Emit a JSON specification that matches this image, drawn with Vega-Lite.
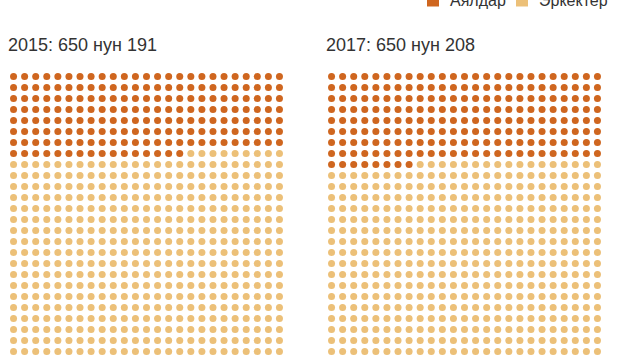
{
  "$schema": "https://vega.github.io/schema/vega-lite/v6.json",
  "background": "white",
  "padding": {"left": 8, "top": -8, "right": 0, "bottom": 0},
  "datasets": {
    "y2015": [
      1,1,1,1,1,1,1,1,1,1,1,1,1,1,1,1,1,1,1,1,1,1,1,1,1,
      1,1,1,1,1,1,1,1,1,1,1,1,1,1,1,1,1,1,1,1,1,1,1,1,1,
      1,1,1,1,1,1,1,1,1,1,1,1,1,1,1,1,1,1,1,1,1,1,1,1,1,
      1,1,1,1,1,1,1,1,1,1,1,1,1,1,1,1,1,1,1,1,1,1,1,1,1,
      1,1,1,1,1,1,1,1,1,1,1,1,1,1,1,1,1,1,1,1,1,1,1,1,1,
      1,1,1,1,1,1,1,1,1,1,1,1,1,1,1,1,1,1,1,1,1,1,1,1,1,
      1,1,1,1,1,1,1,1,1,1,1,1,1,1,1,1,1,1,1,1,1,1,1,1,1,
      1,1,1,1,1,1,1,1,1,1,1,1,1,1,1,1,0,0,0,0,0,0,0,0,0,
      0,0,0,0,0,0,0,0,0,0,0,0,0,0,0,0,0,0,0,0,0,0,0,0,0,
      0,0,0,0,0,0,0,0,0,0,0,0,0,0,0,0,0,0,0,0,0,0,0,0,0,
      0,0,0,0,0,0,0,0,0,0,0,0,0,0,0,0,0,0,0,0,0,0,0,0,0,
      0,0,0,0,0,0,0,0,0,0,0,0,0,0,0,0,0,0,0,0,0,0,0,0,0,
      0,0,0,0,0,0,0,0,0,0,0,0,0,0,0,0,0,0,0,0,0,0,0,0,0,
      0,0,0,0,0,0,0,0,0,0,0,0,0,0,0,0,0,0,0,0,0,0,0,0,0,
      0,0,0,0,0,0,0,0,0,0,0,0,0,0,0,0,0,0,0,0,0,0,0,0,0,
      0,0,0,0,0,0,0,0,0,0,0,0,0,0,0,0,0,0,0,0,0,0,0,0,0,
      0,0,0,0,0,0,0,0,0,0,0,0,0,0,0,0,0,0,0,0,0,0,0,0,0,
      0,0,0,0,0,0,0,0,0,0,0,0,0,0,0,0,0,0,0,0,0,0,0,0,0,
      0,0,0,0,0,0,0,0,0,0,0,0,0,0,0,0,0,0,0,0,0,0,0,0,0,
      0,0,0,0,0,0,0,0,0,0,0,0,0,0,0,0,0,0,0,0,0,0,0,0,0,
      0,0,0,0,0,0,0,0,0,0,0,0,0,0,0,0,0,0,0,0,0,0,0,0,0,
      0,0,0,0,0,0,0,0,0,0,0,0,0,0,0,0,0,0,0,0,0,0,0,0,0,
      0,0,0,0,0,0,0,0,0,0,0,0,0,0,0,0,0,0,0,0,0,0,0,0,0,
      0,0,0,0,0,0,0,0,0,0,0,0,0,0,0,0,0,0,0,0,0,0,0,0,0,
      0,0,0,0,0,0,0,0,0,0,0,0,0,0,0,0,0,0,0,0,0,0,0,0,0,
      0,0,0,0,0,0,0,0,0,0,0,0,0,0,0,0,0,0,0,0,0,0,0,0,0
    ],
    "y2017": [
      1,1,1,1,1,1,1,1,1,1,1,1,1,1,1,1,1,1,1,1,1,1,1,1,1,
      1,1,1,1,1,1,1,1,1,1,1,1,1,1,1,1,1,1,1,1,1,1,1,1,1,
      1,1,1,1,1,1,1,1,1,1,1,1,1,1,1,1,1,1,1,1,1,1,1,1,1,
      1,1,1,1,1,1,1,1,1,1,1,1,1,1,1,1,1,1,1,1,1,1,1,1,1,
      1,1,1,1,1,1,1,1,1,1,1,1,1,1,1,1,1,1,1,1,1,1,1,1,1,
      1,1,1,1,1,1,1,1,1,1,1,1,1,1,1,1,1,1,1,1,1,1,1,1,1,
      1,1,1,1,1,1,1,1,1,1,1,1,1,1,1,1,1,1,1,1,1,1,1,1,1,
      1,1,1,1,1,1,1,1,1,1,1,1,1,1,1,1,1,1,1,1,1,1,1,1,1,
      1,1,1,1,1,1,1,1,0,0,0,0,0,0,0,0,0,0,0,0,0,0,0,0,0,
      0,0,0,0,0,0,0,0,0,0,0,0,0,0,0,0,0,0,0,0,0,0,0,0,0,
      0,0,0,0,0,0,0,0,0,0,0,0,0,0,0,0,0,0,0,0,0,0,0,0,0,
      0,0,0,0,0,0,0,0,0,0,0,0,0,0,0,0,0,0,0,0,0,0,0,0,0,
      0,0,0,0,0,0,0,0,0,0,0,0,0,0,0,0,0,0,0,0,0,0,0,0,0,
      0,0,0,0,0,0,0,0,0,0,0,0,0,0,0,0,0,0,0,0,0,0,0,0,0,
      0,0,0,0,0,0,0,0,0,0,0,0,0,0,0,0,0,0,0,0,0,0,0,0,0,
      0,0,0,0,0,0,0,0,0,0,0,0,0,0,0,0,0,0,0,0,0,0,0,0,0,
      0,0,0,0,0,0,0,0,0,0,0,0,0,0,0,0,0,0,0,0,0,0,0,0,0,
      0,0,0,0,0,0,0,0,0,0,0,0,0,0,0,0,0,0,0,0,0,0,0,0,0,
      0,0,0,0,0,0,0,0,0,0,0,0,0,0,0,0,0,0,0,0,0,0,0,0,0,
      0,0,0,0,0,0,0,0,0,0,0,0,0,0,0,0,0,0,0,0,0,0,0,0,0,
      0,0,0,0,0,0,0,0,0,0,0,0,0,0,0,0,0,0,0,0,0,0,0,0,0,
      0,0,0,0,0,0,0,0,0,0,0,0,0,0,0,0,0,0,0,0,0,0,0,0,0,
      0,0,0,0,0,0,0,0,0,0,0,0,0,0,0,0,0,0,0,0,0,0,0,0,0,
      0,0,0,0,0,0,0,0,0,0,0,0,0,0,0,0,0,0,0,0,0,0,0,0,0,
      0,0,0,0,0,0,0,0,0,0,0,0,0,0,0,0,0,0,0,0,0,0,0,0,0,
      0,0,0,0,0,0,0,0,0,0,0,0,0,0,0,0,0,0,0,0,0,0,0,0,0
    ]
  },
  "spacing": 41,
  "hconcat": [
    {
      "data": {"name": "y2015"},
      "title": "2015: 650 нун 191",
      "width": 277,
      "height": 286,
      "transform": [
        {"window": [{"op": "row_number", "as": "i"}]},
        {"bin": {"step": 25, "extent": [1, 651], "nice": false}, "field": "i", "as": "r0"},
        {"window": [{"op": "row_number", "as": "c"}], "groupby": ["r0"], "sort": [{"field": "i", "order": "ascending"}]}
      ],
      "mark": {"type": "circle", "size": 49, "opacity": 1},
      "encoding": {
        "x": {"field": "c", "type": "quantitative", "scale": {"domain": [0.5, 25.5], "nice": false, "zero": false}, "axis": null},
        "y": {"field": "r0", "type": "quantitative", "scale": {"domain": [-11.5, 638.5], "nice": false, "zero": false, "reverse": true}, "axis": null},
        "color": {"field": "data", "type": "nominal", "scale": {"domain": [1, 0], "range": ["#cf661f", "#ecc078"]},
          "legend": {"labelExpr": "datum.value == 1 ? 'Аялдар' : 'Эркектер'"}}
      }
    },
    {
      "data": {"name": "y2017"},
      "title": "2017: 650 нун 208",
      "width": 277,
      "height": 286,
      "transform": [
        {"window": [{"op": "row_number", "as": "i"}]},
        {"bin": {"step": 25, "extent": [1, 651], "nice": false}, "field": "i", "as": "r0"},
        {"window": [{"op": "row_number", "as": "c"}], "groupby": ["r0"], "sort": [{"field": "i", "order": "ascending"}]}
      ],
      "mark": {"type": "circle", "size": 49, "opacity": 1},
      "encoding": {
        "x": {"field": "c", "type": "quantitative", "scale": {"domain": [0.5, 25.5], "nice": false, "zero": false}, "axis": null},
        "y": {"field": "r0", "type": "quantitative", "scale": {"domain": [-11.5, 638.5], "nice": false, "zero": false, "reverse": true}, "axis": null},
        "color": {"field": "data", "type": "nominal", "scale": {"domain": [1, 0], "range": ["#cf661f", "#ecc078"]},
          "legend": {"labelExpr": "datum.value == 1 ? 'Аялдар' : 'Эркектер'"}}
      }
    }
  ],
  "config": {
    "view": {"stroke": null},
    "title": {"anchor": "start", "fontSize": 18, "fontWeight": "normal", "color": "#333333", "font": "Liberation Sans", "offset": 16},
    "legend": {
      "orient": "none", "legendX": 417, "legendY": -78.5, "direction": "horizontal",
      "title": null, "symbolType": "square", "symbolSize": 144, "symbolStrokeWidth": 0, "symbolOpacity": 1,
      "labelFontSize": 16, "labelFont": "Liberation Sans", "labelColor": "#333333", "labelOffset": 9, "columnPadding": 8
    }
  }
}
